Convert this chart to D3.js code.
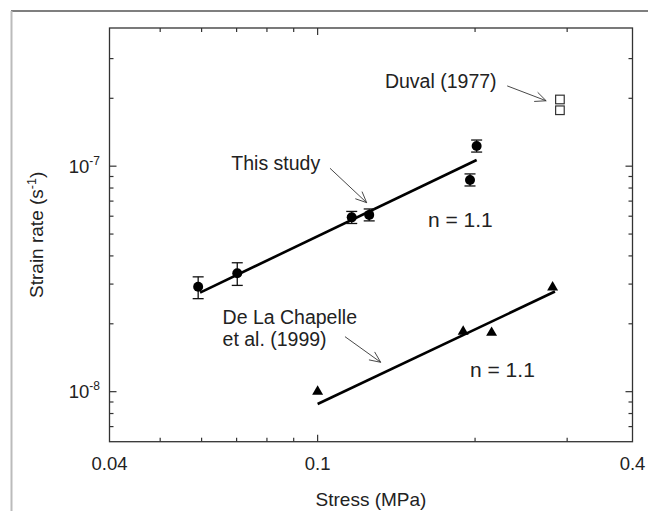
<!DOCTYPE html>
<html>
<head>
<meta charset="utf-8">
<script src="https://cdn.jsdelivr.net/npm/d3@7"></script>
<style>
  html, body { margin: 0; padding: 0; background: #fff; }
  svg { display: block; font-family: "Liberation Sans", Arial, sans-serif; }
</style>
</head>
<body>
<script>
// data (stress in MPa, strain rate in 1/s)
const studyStress = [0.0591, 0.0702, 0.1162, 0.1255, 0.1956, 0.2014];
const studyRate = [2.92e-8, 3.35e-8, 5.93e-8, 6.08e-8, 8.69e-8, 1.229e-7];
const studyLow = [2.585e-8, 2.96e-8, 5.57e-8, 5.72e-8, 8.17e-8, 1.155e-7];
const studyHigh = [3.23e-8, 3.73e-8, 6.30e-8, 6.46e-8, 9.24e-8, 1.306e-7];

const chapelleStress = [0.1, 0.1898, 0.2151, 0.2814];
const chapelleRate = [1.0e-8, 1.845e-8, 1.826e-8, 2.90e-8];

const duvalStress = [0.2906, 0.2906];
const duvalRate = [1.976e-7, 1.77e-7];

// power-law fits, n = 1.1
const fitStudyStress = [0.0596, 0.2014];
const fitStudyRate = [2.75e-8, 1.065e-7];
const fitChapelleStress = [0.1, 0.2843];
const fitChapelleRate = [8.82e-9, 2.78e-8];

// ticks
const xLabelTicks = [0.04, 0.1, 0.4];
const xMajorTicks = [0.1];
const xMinorTicks = [0.05, 0.06, 0.07, 0.08, 0.09, 0.2, 0.3];
const yMajorTicks = [1e-8, 1e-7];
const yMajorExp = ['-8', '-7'];
const yMinorTicks = [7e-9, 8e-9, 9e-9, 2e-8, 3e-8, 4e-8, 5e-8, 6e-8, 7e-8, 8e-8, 9e-8, 2e-7, 3e-7];

const W = 648, H = 511;
const m = { left: 109.5, right: 632.5, top: 28, bottom: 441.7 };

const x = d3.scaleLog().domain([0.04, 0.4]).range([m.left, m.right]);
const y = d3.scaleLog().domain([6e-9, 4.1e-7]).range([m.bottom, m.top]);

const svg = d3.select('body').append('svg')
    .attr('width', W)
    .attr('height', H);

// outer figure border (only top and left visible)
svg.append('line').attr('x1', 11).attr('x2', W).attr('y1', 11).attr('y2', 11)
    .attr('stroke', '#555').attr('stroke-width', 1.5);
svg.append('line').attr('x1', 11.5).attr('x2', 11.5).attr('y1', 11).attr('y2', H)
    .attr('stroke', '#bbb').attr('stroke-width', 2);

const ink = '#222';

// frame
svg.append('rect')
    .attr('x', m.left).attr('y', m.top)
    .attr('width', m.right - m.left).attr('height', m.bottom - m.top)
    .attr('fill', 'none').attr('stroke', '#333').attr('stroke-width', 1.3);

// ticks on all four sides, pointing inward
const gTicks = svg.append('g').attr('stroke', '#333').attr('stroke-width', 1.2);
const xt = xMajorTicks.map(v => ({ v, len: 7 })).concat(xMinorTicks.map(v => ({ v, len: 4 })));
gTicks.selectAll('.xb').data(xt).enter().append('line')
    .attr('x1', d => x(d.v)).attr('x2', d => x(d.v))
    .attr('y1', m.bottom).attr('y2', d => m.bottom - d.len);
gTicks.selectAll('.xt').data(xt).enter().append('line')
    .attr('x1', d => x(d.v)).attr('x2', d => x(d.v))
    .attr('y1', m.top).attr('y2', d => m.top + d.len);

const yt = yMajorTicks.map(v => ({ v, len: 7 })).concat(yMinorTicks.map(v => ({ v, len: 4 })));
gTicks.selectAll('.yl').data(yt).enter().append('line')
    .attr('y1', d => y(d.v)).attr('y2', d => y(d.v))
    .attr('x1', m.left).attr('x2', d => m.left + d.len);
gTicks.selectAll('.yr').data(yt).enter().append('line')
    .attr('y1', d => y(d.v)).attr('y2', d => y(d.v))
    .attr('x1', m.right).attr('x2', d => m.right - d.len);

// tick labels
svg.append('g').selectAll('text').data(xLabelTicks).enter().append('text')
    .attr('x', d => x(d)).attr('y', 469.5)
    .attr('text-anchor', 'middle')
    .attr('font-size', 18.5).attr('fill', ink)
    .text(d => d);

const yl = svg.append('g').selectAll('text').data(yMajorTicks).enter().append('text')
    .attr('x', m.left - 9.5).attr('y', d => y(d) + 6.5)
    .attr('text-anchor', 'end')
    .attr('font-size', 18.5).attr('fill', ink);
yl.append('tspan').text('10');
yl.append('tspan').attr('dy', -8).attr('font-size', 12).text((d, i) => yMajorExp[i]);

// axis titles
svg.append('text')
    .attr('x', (m.left + m.right) / 2).attr('y', 506)
    .attr('text-anchor', 'middle')
    .attr('font-size', 19).attr('fill', ink)
    .text('Stress (MPa)');

const yTitle = svg.append('text')
    .attr('transform', `translate(43,${(m.top + m.bottom) / 2}) rotate(-90)`)
    .attr('text-anchor', 'middle')
    .attr('font-size', 19).attr('fill', ink);
yTitle.append('tspan').text('Strain rate (s');
yTitle.append('tspan').attr('dy', -7).attr('font-size', 12.5).text('-1');
yTitle.append('tspan').attr('dy', 7).text(')');

// fit lines
const line = d3.line().x(d => x(d[0])).y(d => y(d[1]));
svg.append('path')
    .datum(d3.zip(fitStudyStress, fitStudyRate))
    .attr('d', line).attr('fill', 'none').attr('stroke', '#000').attr('stroke-width', 2.6);
svg.append('path')
    .datum(d3.zip(fitChapelleStress, fitChapelleRate))
    .attr('d', line).attr('fill', 'none').attr('stroke', '#000').attr('stroke-width', 2.6);

// this study: error bars + circles
const study = d3.zip(studyStress, studyRate, studyLow, studyHigh);
const gErr = svg.append('g').attr('stroke', '#111').attr('stroke-width', 1.3);
gErr.selectAll('.v').data(study).enter().append('line')
    .attr('x1', d => x(d[0])).attr('x2', d => x(d[0]))
    .attr('y1', d => y(d[2])).attr('y2', d => y(d[3]));
gErr.selectAll('.lo').data(study).enter().append('line')
    .attr('x1', d => x(d[0]) - 5.5).attr('x2', d => x(d[0]) + 5.5)
    .attr('y1', d => y(d[2])).attr('y2', d => y(d[2]));
gErr.selectAll('.hi').data(study).enter().append('line')
    .attr('x1', d => x(d[0]) - 5.5).attr('x2', d => x(d[0]) + 5.5)
    .attr('y1', d => y(d[3])).attr('y2', d => y(d[3]));
svg.append('g').selectAll('circle').data(study).enter().append('circle')
    .attr('cx', d => x(d[0])).attr('cy', d => y(d[1]))
    .attr('r', 5).attr('fill', '#000');

// De La Chapelle et al. triangles
svg.append('g').selectAll('path').data(d3.zip(chapelleStress, chapelleRate)).enter().append('path')
    .attr('transform', d => `translate(${x(d[0])},${y(d[1])})`)
    .attr('d', d3.symbol(d3.symbolTriangle, 52))
    .attr('fill', '#000');

// Duval squares
svg.append('g').selectAll('rect').data(d3.zip(duvalStress, duvalRate)).enter().append('rect')
    .attr('x', d => x(d[0]) - 4.3).attr('y', d => y(d[1]) - 4.3)
    .attr('width', 8.6).attr('height', 8.6)
    .attr('fill', '#fff').attr('stroke', '#333').attr('stroke-width', 1.2);

// annotations (positions in data units)
const notes = [
    { lines: ['This study'], at: [0.0684, 9.6e-8], size: 19.5 },
    { lines: ['Duval (1977)'], at: [0.1345, 2.22e-7], size: 19.5 },
    { lines: ['De La Chapelle', 'et al. (1999)'], at: [0.0658, 1.99e-8], size: 19.5 },
    { lines: ['n = 1.1'], at: [0.1625, 5.39e-8], size: 21 },
    { lines: ['n = 1.1'], at: [0.1956, 1.166e-8], size: 21 }
];
notes.forEach(n => {
    const t = svg.append('text')
        .attr('x', x(n.at[0])).attr('y', y(n.at[1]))
        .attr('font-size', n.size).attr('fill', ink);
    n.lines.forEach((s, i) => {
        t.append('tspan').attr('x', x(n.at[0])).attr('dy', i ? 21.7 : 0).text(s);
    });
});

const arrows = [
    { from: [0.1056, 9.79e-8], to: [0.1241, 6.89e-8] },
    { from: [0.2304, 2.27e-7], to: [0.2735, 1.95e-7] },
    { from: [0.1128, 1.754e-8], to: [0.1320, 1.35e-8] }
];
const gArr = svg.append('g').attr('stroke', '#333').attr('stroke-width', 0.9).attr('fill', 'none');
arrows.forEach(a => {
    const x0 = x(a.from[0]), y0 = y(a.from[1]);
    const x1 = x(a.to[0]), y1 = y(a.to[1]);
    const ang = Math.atan2(y1 - y0, x1 - x0);
    const hl = 12, ha = 0.42;
    gArr.append('line').attr('x1', x0).attr('y1', y0).attr('x2', x1).attr('y2', y1);
    gArr.append('path').attr('d',
        `M${x1 - hl * Math.cos(ang - ha)},${y1 - hl * Math.sin(ang - ha)}` +
        `L${x1},${y1}` +
        `L${x1 - hl * Math.cos(ang + ha)},${y1 - hl * Math.sin(ang + ha)}`);
});
</script>
</body>
</html>
